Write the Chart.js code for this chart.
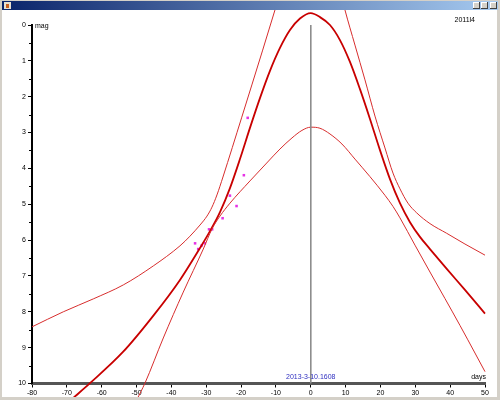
<!DOCTYPE html>
<html><head><meta charset="utf-8">
<script src="https://cdn.jsdelivr.net/npm/chart.js@4/dist/chart.umd.min.js"></script>
<style>
html,body{margin:0;padding:0;width:500px;height:400px;overflow:hidden;background:#d4d0c8;}
#tb{position:absolute;left:2px;top:1px;width:496px;height:9px;background:linear-gradient(to right,#0a246a,#a6caf0);}
#ic{position:absolute;left:2px;top:1px;width:7px;height:7px;background:#e8e0d0;}
#ic:after{content:"";position:absolute;left:2px;top:2px;width:3px;height:4px;background:#c86020;}
.bt{position:absolute;top:1px;width:7px;height:7px;background:#d4d0c8;box-shadow:inset -1px -1px #404040,inset 1px 1px #fff;}
#cv{position:absolute;left:2px;top:10px;background:#fff;}
</style></head>
<body>
<div id="tb"><div id="ic"></div><div class="bt" style="left:471px"></div><div class="bt" style="left:479px"></div><div class="bt" style="left:488px"></div></div>
<canvas id="cv" width="495" height="387"></canvas>
<script>
// ---- data ----
const xMin = -80, xMax = 50, xStep = 10;
const yMin = 0, yMax = 10, yStep = 0.5;
const lightDays = [-68.24, -63.36, -53.89, -45.28, -37.53, -31.79, -28.92, -26.05, -23.19, -20.32, -17.45, -14.58, -11.71, -8.84, -5.97, -3.10, 0, 2.64, 5.51, 8.38, 11.25, 14.12, 16.99, 19.86, 22.73, 25.60, 28.47, 31.33, 34.21, 39.09, 44.25, 50];
const lightMags = [10.41, 9.99, 9.12, 8.12, 7.11, 6.22, 5.75, 5.22, 4.55, 3.74, 2.87, 2.04, 1.28, 0.64, 0.14, -0.18, -0.33, -0.22, 0.0, 0.42, 1.03, 1.79, 2.62, 3.49, 4.30, 4.97, 5.50, 5.91, 6.25, 6.81, 7.39, 8.05];
const brightLeftDays = [-80, -71.02, -62.41, -53.80, -45.19, -37.53, -34.66, -31.79, -29.78, -28.35, -26.92, -25.20, -19.86, -13.80, -10.27, -8.84];
const brightLeftMags = [8.42, 8.00, 7.64, 7.25, 6.72, 6.16, 5.89, 5.58, 5.33, 5.08, 4.74, 4.24, 2.59, 0.70, -0.42, -0.86];
const brightRightDays = [9.10, 9.81, 12.68, 15.55, 18.42, 21.29, 23.59, 25.60, 27.89, 30.39, 34.21, 39.00, 44.25, 50];
const brightRightMags = [-0.70, -0.42, 0.56, 1.53, 2.54, 3.43, 4.13, 4.57, 4.97, 5.24, 5.54, 5.81, 6.11, 6.42];
const faintDays = [-49.96, -47.58, -42.32, -36.59, -30.85, -28.35, -26.05, -23.19, -17.45, -12.65, -8.84, -5.39, -2.53, 0, 2.64, 5.51, 8.95, 12.68, 16.99, 21.29, 23.59, 25.60, 29.90, 34.21, 38.51, 42.82, 47.12, 50];
const faintMags = [10.46, 9.99, 8.73, 7.45, 6.25, 5.69, 5.33, 4.97, 4.35, 3.85, 3.46, 3.15, 2.94, 2.85, 2.88, 3.04, 3.32, 3.74, 4.23, 4.75, 5.06, 5.38, 6.14, 6.89, 7.63, 8.38, 9.15, 9.67];
const obsDays = [-33.2, -32.3, -31.3, -30.4, -29.2, -28.3, -25.3, -23.2, -21.3, -19.2, -18.1];
const obsMags = [6.09, 6.25, 6.15, 6.09, 5.70, 5.70, 5.39, 4.76, 5.05, 4.19, 2.59];
const peakDays = [0, 0];
const peakMags = [0, 10];
const yUnit = 'mag', xUnit = 'days', peakLabel = '2013-3-10.1608', nameLabel = '2011l4';

const pts = (xs, ys) => xs.map((x, i) => ({x: x, y: ys[i]}));
const FONT = {family: 'Liberation Sans', size: 7};

const lineDs = (d, m, color, w) => ({data: pts(d, m), showLine: true, pointRadius: 0, borderColor: color, borderWidth: w, cubicInterpolationMode: 'monotone', clip: false, fill: false});

const textPlugin = {
  id: 'texts',
  afterDraw(chart) {
    const ctx = chart.ctx, a = chart.chartArea, xs = chart.scales.x, ys = chart.scales.y;
    ctx.save();
    ctx.strokeStyle = '#000'; ctx.lineWidth = 1;
    for (let v = yMin + yStep; v < yMax; v += 1) {
      const py = Math.round(ys.getPixelForValue(v)) + 0.5;
      ctx.beginPath(); ctx.moveTo(a.left - 3, py); ctx.lineTo(a.left, py); ctx.stroke();
    }
    ctx.font = '7px "Liberation Sans"';
    ctx.fillStyle = '#000';
    ctx.textAlign = 'left'; ctx.textBaseline = 'alphabetic';
    ctx.fillText(yUnit, a.left + 3, a.top + 3);
    ctx.textAlign = 'right';
    ctx.fillText(xUnit, a.right + 1, a.bottom - 5);
    ctx.fillText(nameLabel, a.right - 10, a.top - 3);
    ctx.textAlign = 'center'; ctx.fillStyle = '#2f2fc0';
    ctx.fillText(peakLabel, xs.getPixelForValue(0), a.bottom - 5);
    ctx.restore();
  }
};

new Chart(document.getElementById('cv'), {
  type: 'scatter',
  data: {datasets: [
    {data: pts(peakDays, peakMags), showLine: true, pointRadius: 0, borderColor: '#8c8c8c', borderWidth: 1},
    lineDs(brightLeftDays, brightLeftMags, 'rgb(215,45,45)', 1),
    lineDs(brightRightDays, brightRightMags, 'rgb(215,45,45)', 1),
    lineDs(faintDays, faintMags, 'rgb(215,45,45)', 1),
    lineDs(lightDays, lightMags, 'rgb(200,0,0)', 1.8),
    {data: pts(obsDays, obsMags), pointStyle: 'rect', pointRadius: 1.8, backgroundColor: 'rgb(230,50,230)', borderColor: 'rgb(230,50,230)', borderWidth: 0, clip: false}
  ]},
  options: {
    responsive: false, animation: false, devicePixelRatio: 1,
    layout: {padding: {left: 0, top: 15, right: 12, bottom: 0}},
    plugins: {legend: {display: false}, tooltip: {enabled: false}},
    scales: {
      x: {type: 'linear', min: xMin, max: xMax,
        ticks: {stepSize: xStep, color: '#000', font: FONT, padding: 1, maxRotation: 0},
        grid: {drawOnChartArea: false, drawTicks: true, tickLength: 4, tickColor: '#000'},
        border: {color: '#555', width: 3},
        afterFit: s => { s.height = 13.5; }
      },
      y: {type: 'linear', min: yMin, max: yMax, reverse: true,
        ticks: {stepSize: 1, color: '#000', font: FONT, padding: 2},
        grid: {drawOnChartArea: false, drawTicks: true, tickLength: 4, tickColor: '#000'},
        border: {color: '#000', width: 2},
        afterFit: s => { s.width = 30; }
      }
    }
  },
  plugins: [textPlugin]
});
</script>
</body></html>
